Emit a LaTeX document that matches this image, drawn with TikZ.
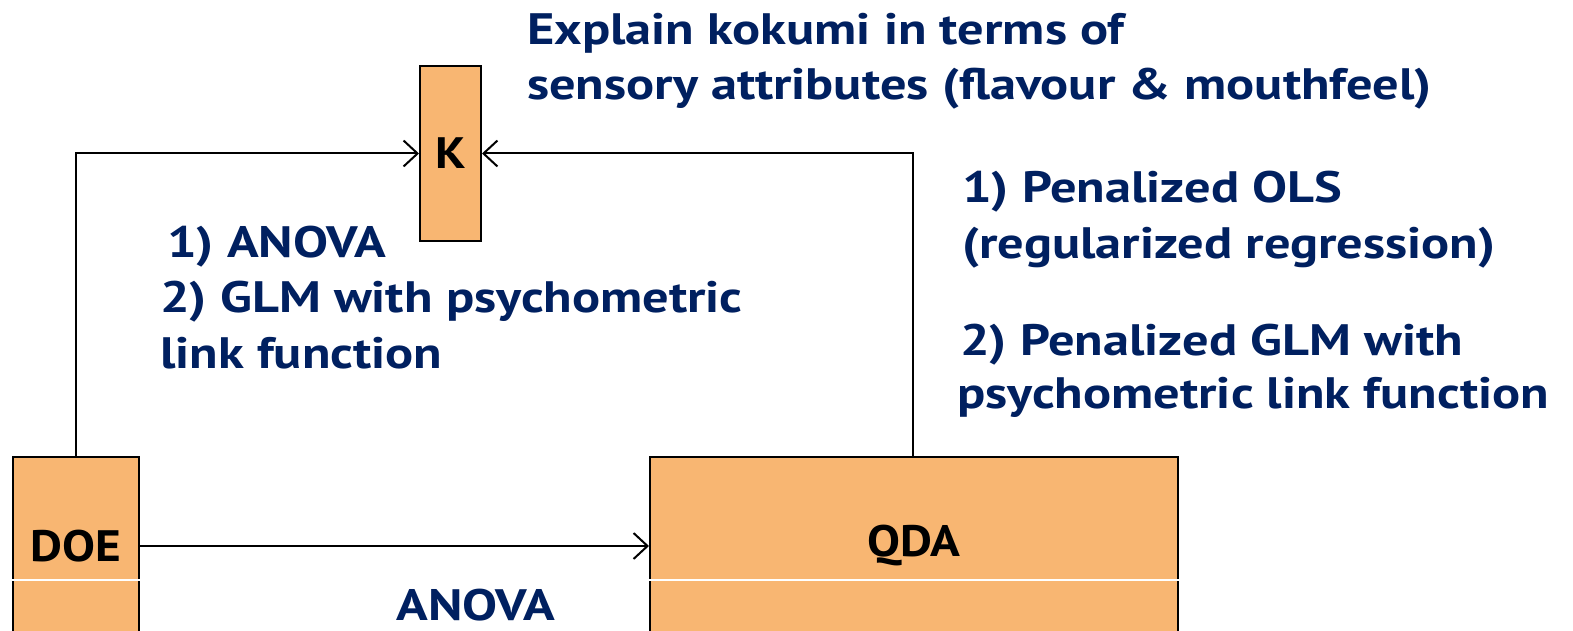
\documentclass[tikz,border=0pt]{standalone}
\usepackage{fontspec}
\setmainfont{PT Sans}
\newfontfamily\widefont[FakeStretch=1.19]{PT Sans}
\newfontfamily\boxfont[FakeStretch=1.12]{PT Sans}
\usetikzlibrary{arrows.meta}
\definecolor{navy}{RGB}{0,32,96}
\definecolor{boxfill}{RGB}{248,182,114}
\tikzset{
  box/.style={draw=black, line width=2pt, fill=boxfill, inner sep=0pt, font=\boxfont\fontsize{44}{50}\selectfont\bfseries, text=black},
  conn/.style={draw=black, line width=2pt, -{Straight Barb[length=14pt, width=26pt, line width=2pt]}},
  txt/.style={anchor=base west, inner sep=0pt, text=navy, font=\widefont\fontsize{44}{54}\selectfont\bfseries},
  sep/.style={draw=white, line width=1.5pt}
}
\begin{document}
\begin{tikzpicture}[x=1pt, y=-1pt]
\useasboundingbox (0,0) rectangle (1573,631);
\clip (0,0) rectangle (1573,631);
\fill[white] (0,0) rectangle (1573,631);
% boxes
\node[box, minimum width=126pt, minimum height=178pt] (doe) at (76,546) {DOE};
\node[box, minimum width=528pt, minimum height=178pt] (qda) at (914,546) {QDA};
\node[box, minimum width=61pt, minimum height=175pt] (k) at (450.5,153.5) {K};
\draw[sep] (doe.west |- 0,580) -- (doe.east |- 0,580);
\draw[sep] (qda.west |- 0,580) -- (qda.east |- 0,580);
% connectors
\coordinate (c1) at (doe.north |- k.west);
\coordinate (c2) at (913,153.5);
\draw[conn] (doe.north) -- (c1) -- (k.west);
\draw[conn] (qda.north -| c2) -- (c2) -- (k.east);
\draw[conn] (doe.east) -- (qda.west);
% texts
\node[txt] (t1) at (527,45) {Explain kokumi in terms of};
\node[txt] (t2) at (527,100) {sensory attributes (flavour \& mouthfeel)};
\node[txt] (r1) at (962,203) {1) Penalized OLS};
\node[txt] (r2) at (962,258) {(regularized regression)};
\node[txt] (r3) at (960,355) {2) Penalized GLM with};
\node[txt] (r4) at (957,408) {psychometric link function};
\node[txt] (l1) at (167,257) {1) ANOVA};
\node[txt] (l2) at (160,312) {2) GLM with psychometric};
\node[txt] (l3) at (160,368) {link function};
\node[txt, anchor=base] (an) at (476,620) {ANOVA};
\end{tikzpicture}
\end{document}
